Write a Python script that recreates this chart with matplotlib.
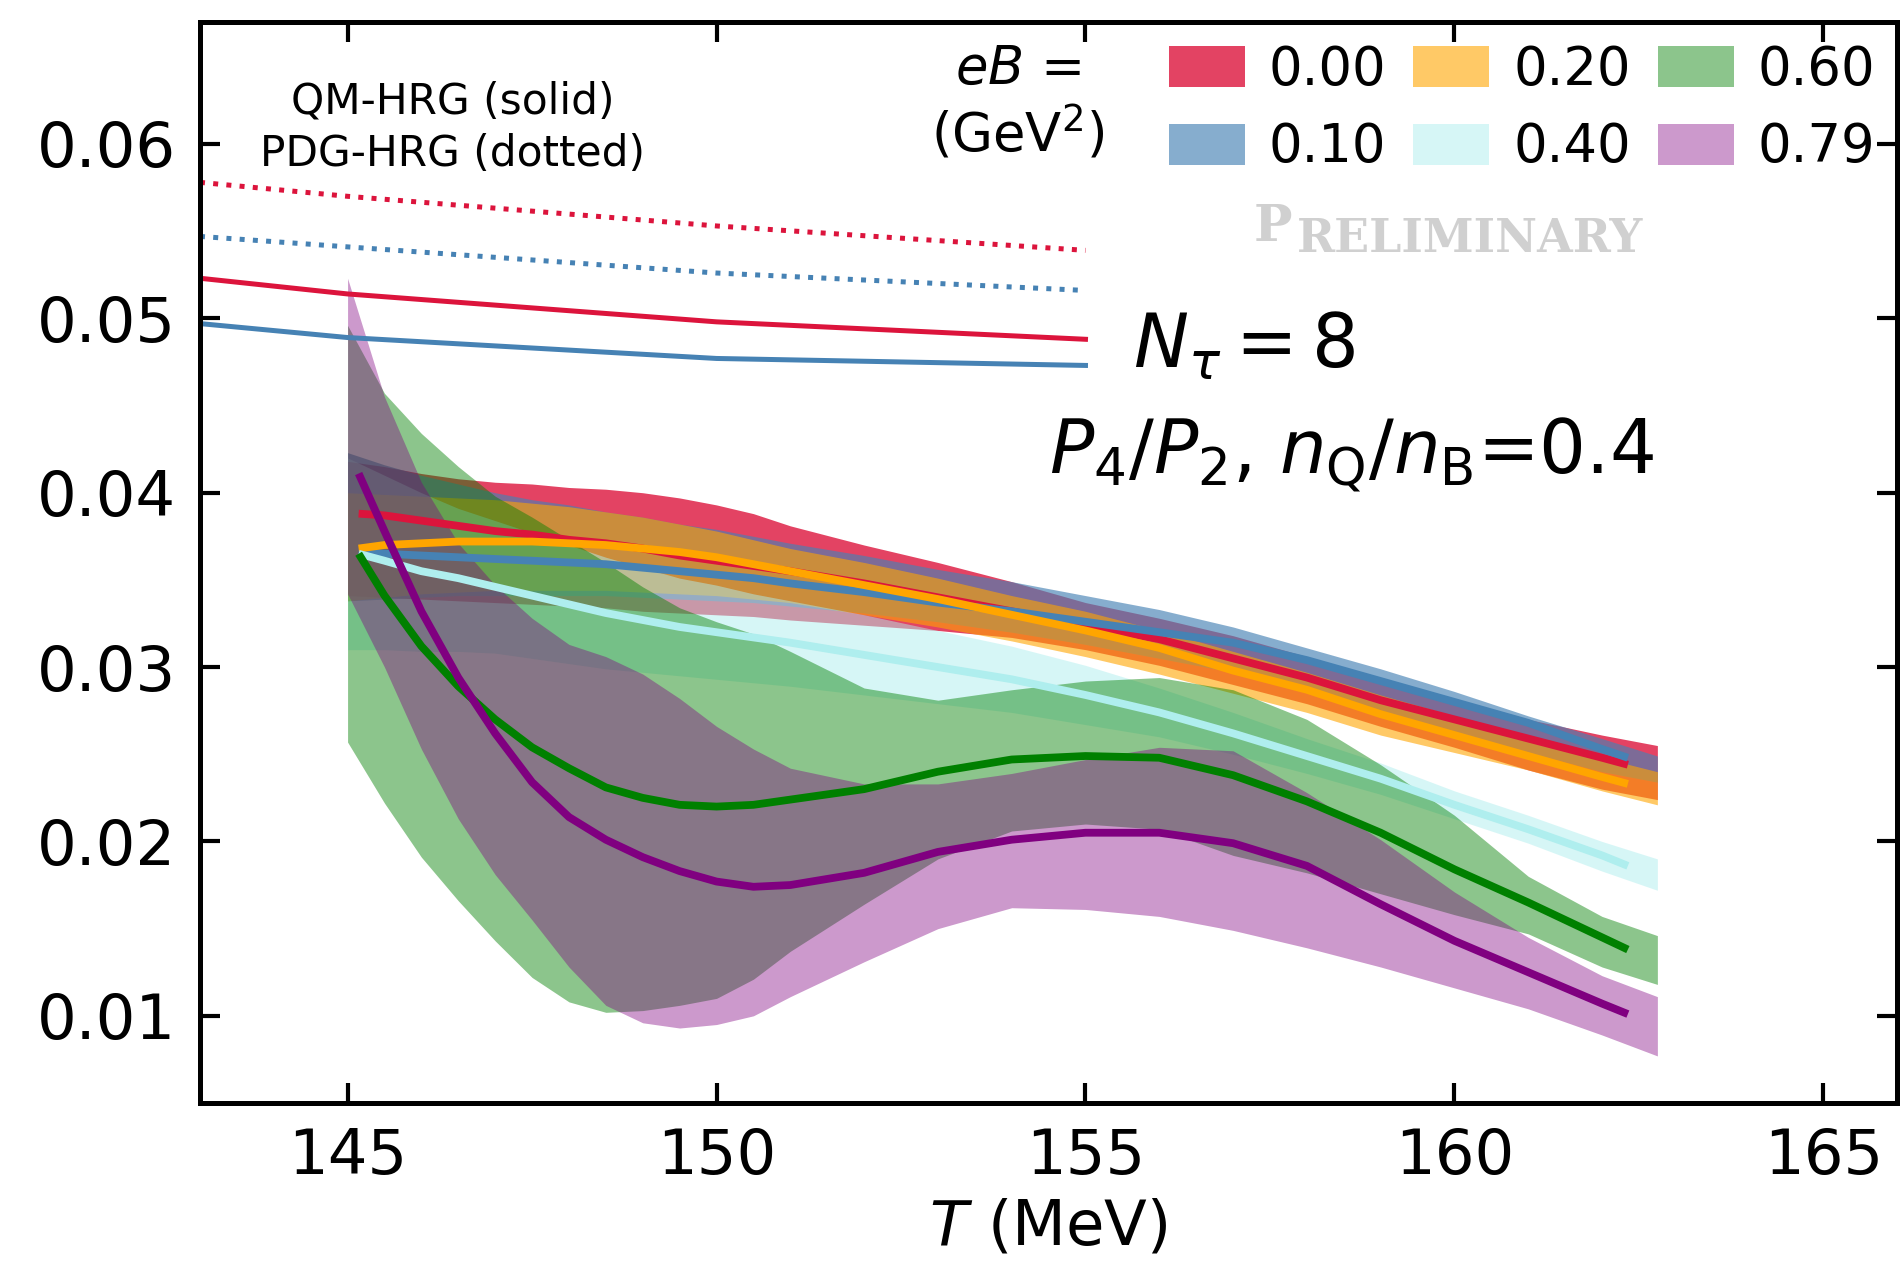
import matplotlib
matplotlib.use("Agg")
import matplotlib.pyplot as plt

# temperature grids (MeV)
T_band = [145, 145.5, 146, 146.5, 147, 147.5, 148, 148.5, 149, 149.5, 150, 150.5,
          151, 152, 153, 154, 155, 156, 157, 158, 159, 160, 161, 162, 162.75]
T_line = [145.15, 145.5, 146, 146.5, 147, 147.5, 148, 148.5, 149, 149.5, 150, 150.5,
          151, 152, 153, 154, 155, 156, 157, 158, 159, 160, 161, 162, 162.35]
T_hrg = [143, 145, 150, 155]

eB_labels = ["0.00", "0.10", "0.20", "0.40", "0.60", "0.79"]
line_colors = ["crimson", "steelblue", "orange", "paleturquoise", "green", "purple"]
band_alpha = [0.8, 0.65, 0.6, 0.5, 0.45, 0.4]

# error bands: upper / lower edges
up_000 = [0.0418, 0.0415, 0.0411, 0.0408, 0.0406, 0.0405, 0.0403, 0.0402, 0.0400, 0.0397, 0.0393, 0.0388,
          0.0381, 0.0370, 0.0360, 0.0349, 0.0337, 0.0328, 0.0318, 0.0306, 0.0294, 0.0282, 0.0270, 0.0261, 0.0255]
lo_000 = [0.0341, 0.0340, 0.0339, 0.0338, 0.0337, 0.0336, 0.0335, 0.0334, 0.0332, 0.0331, 0.0330, 0.0329,
          0.0327, 0.0324, 0.0321, 0.0317, 0.0310, 0.0301, 0.0290, 0.0279, 0.0266, 0.0254, 0.0241, 0.0230, 0.0224]
up_010 = [0.0423, 0.0416, 0.0410, 0.0405, 0.0400, 0.0396, 0.0393, 0.0389, 0.0386, 0.0382, 0.0379, 0.0375,
          0.0371, 0.0364, 0.0356, 0.0349, 0.0341, 0.0333, 0.0323, 0.0311, 0.0299, 0.0286, 0.0272, 0.0259, 0.0249]
lo_010 = [0.0338, 0.0339, 0.0340, 0.0341, 0.0341, 0.0341, 0.0341, 0.0341, 0.0340, 0.0339, 0.0338, 0.0337,
          0.0335, 0.0331, 0.0326, 0.0320, 0.0313, 0.0305, 0.0297, 0.0287, 0.0275, 0.0263, 0.0251, 0.0240, 0.0234]
up_020 = [0.0400, 0.0399, 0.0398, 0.0397, 0.0396, 0.0394, 0.0392, 0.0389, 0.0386, 0.0382, 0.0378, 0.0373,
          0.0368, 0.0360, 0.0351, 0.0341, 0.0332, 0.0321, 0.0309, 0.0297, 0.0284, 0.0272, 0.0260, 0.0248, 0.0240]
lo_020 = [0.0338, 0.0340, 0.0342, 0.0343, 0.0344, 0.0344, 0.0344, 0.0344, 0.0343, 0.0342, 0.0341, 0.0339,
          0.0337, 0.0330, 0.0323, 0.0315, 0.0306, 0.0296, 0.0285, 0.0274, 0.0261, 0.0251, 0.0241, 0.0229, 0.0221]
up_040 = [0.0420, 0.0410, 0.0400, 0.0391, 0.0384, 0.0377, 0.0370, 0.0363, 0.0357, 0.0351, 0.0347, 0.0342,
          0.0338, 0.0330, 0.0321, 0.0312, 0.0301, 0.0288, 0.0274, 0.0259, 0.0245, 0.0229, 0.0215, 0.0200, 0.0190]
lo_040 = [0.0310, 0.0310, 0.0309, 0.0309, 0.0308, 0.0305, 0.0302, 0.0299, 0.0297, 0.0295, 0.0293, 0.0291,
          0.0289, 0.0284, 0.0279, 0.0274, 0.0267, 0.0260, 0.0250, 0.0239, 0.0227, 0.0213, 0.0199, 0.0183, 0.0172]
up_060 = [0.0496, 0.0457, 0.0434, 0.0415, 0.0398, 0.0386, 0.0373, 0.0360, 0.0346, 0.0334, 0.0326, 0.0319,
          0.0309, 0.0288, 0.0281, 0.0287, 0.0292, 0.0294, 0.0287, 0.0270, 0.0244, 0.0215, 0.0180, 0.0157, 0.0146]
lo_060 = [0.0257, 0.0222, 0.0191, 0.0166, 0.0143, 0.0122, 0.0108, 0.0102, 0.0103, 0.0106, 0.0110, 0.0121,
          0.0137, 0.0164, 0.0190, 0.0206, 0.0210, 0.0207, 0.0192, 0.0182, 0.0170, 0.0158, 0.0147, 0.0128, 0.0118]
up_079 = [0.0523, 0.0455, 0.0406, 0.0371, 0.0347, 0.0328, 0.0313, 0.0306, 0.0296, 0.0282, 0.0266, 0.0253,
          0.0242, 0.0233, 0.0233, 0.0239, 0.0247, 0.0254, 0.0252, 0.0228, 0.0201, 0.0171, 0.0145, 0.0123, 0.0111]
lo_079 = [0.0342, 0.0300, 0.0253, 0.0213, 0.0181, 0.0155, 0.0128, 0.0106, 0.0096, 0.0093, 0.0095, 0.0100,
          0.0111, 0.0131, 0.0150, 0.0162, 0.0161, 0.0157, 0.0149, 0.0139, 0.0128, 0.0116, 0.0104, 0.0089, 0.0077]

# central values
mid_000 = [0.0388, 0.0387, 0.0384, 0.0381, 0.0378, 0.0376, 0.0373, 0.0371, 0.0368, 0.0364, 0.0361, 0.0358,
           0.0355, 0.0348, 0.0340, 0.0332, 0.0324, 0.0316, 0.0305, 0.0294, 0.0281, 0.0270, 0.0259, 0.0248, 0.0244]
mid_010 = [0.0366, 0.0365, 0.0364, 0.0363, 0.0362, 0.0361, 0.0360, 0.0359, 0.0357, 0.0355, 0.0353, 0.0351,
           0.0348, 0.0343, 0.0337, 0.0332, 0.0326, 0.0320, 0.0314, 0.0304, 0.0292, 0.0280, 0.0268, 0.0253, 0.0248]
mid_020 = [0.0368, 0.0370, 0.0371, 0.0372, 0.0372, 0.0372, 0.0371, 0.0370, 0.0368, 0.0366, 0.0363, 0.0359,
           0.0355, 0.0347, 0.0339, 0.0330, 0.0321, 0.0311, 0.0298, 0.0287, 0.0273, 0.0261, 0.0249, 0.0237, 0.0233]
mid_040 = [0.0365, 0.0361, 0.0355, 0.0351, 0.0346, 0.0341, 0.0336, 0.0331, 0.0327, 0.0323, 0.0320, 0.0317,
           0.0314, 0.0307, 0.0300, 0.0293, 0.0284, 0.0274, 0.0262, 0.0249, 0.0236, 0.0221, 0.0207, 0.0192, 0.0186]
mid_060 = [0.0365, 0.0341, 0.0312, 0.0289, 0.0270, 0.0254, 0.0242, 0.0231, 0.0225, 0.0221, 0.0220, 0.0221,
           0.0224, 0.0230, 0.0240, 0.0247, 0.0249, 0.0248, 0.0238, 0.0223, 0.0205, 0.0184, 0.0165, 0.0145, 0.0138]
mid_079 = [0.0411, 0.0378, 0.0332, 0.0294, 0.0262, 0.0234, 0.0214, 0.0201, 0.0191, 0.0183, 0.0177, 0.0174,
           0.0175, 0.0182, 0.0194, 0.0201, 0.0205, 0.0205, 0.0199, 0.0186, 0.0164, 0.0143, 0.0125, 0.0107, 0.0101]

# HRG curves
qm_000 = [0.0523, 0.0514, 0.0498, 0.0488]
qm_010 = [0.0497, 0.0489, 0.0477, 0.0473]
pdg_000 = [0.0578, 0.0570, 0.0553, 0.0539]
pdg_010 = [0.0547, 0.0541, 0.0526, 0.0516]

uppers = [up_000, up_010, up_020, up_040, up_060, up_079]
lowers = [lo_000, lo_010, lo_020, lo_040, lo_060, lo_079]
mids = [mid_000, mid_010, mid_020, mid_040, mid_060, mid_079]

fig = plt.figure(figsize=(9.505, 6.305), dpi=200)
ax = fig.add_axes([0.1052, 0.1253, 0.8928, 0.8573])

# bands first, central lines on top
for lab, col, a, up, lo in zip(eB_labels, line_colors, band_alpha, uppers, lowers):
    ax.fill_between(T_band, lo, up, color=col, alpha=a, lw=0, label=lab)
for col, m in zip(line_colors, mids):
    ax.plot(T_line, m, color=col, lw=2.8, solid_capstyle="butt", zorder=5)

ax.plot(T_hrg, qm_000, color="crimson", lw=1.8)
ax.plot(T_hrg, qm_010, color="steelblue", lw=1.8)
ax.plot(T_hrg, pdg_000, color="crimson", lw=1.8, ls=":")
ax.plot(T_hrg, pdg_010, color="steelblue", lw=1.8, ls=":")

ax.set_xlim(143, 166)
ax.set_ylim(0.005, 0.067)
ax.set_xticks([145, 150, 155, 160, 165])
ax.set_yticks([0.01, 0.02, 0.03, 0.04, 0.05, 0.06])
ax.set_yticklabels(["0.01", "0.02", "0.03", "0.04", "0.05", "0.06"])
ax.tick_params(direction="in", length=7.2, width=1.5, top=True, right=True,
               labelsize=22.5, pad=8.5)
for sp in ax.spines.values():
    sp.set_linewidth(1.8)
ax.set_xlabel(r"$T$ (MeV)", fontsize=22.5, labelpad=4)

ax.legend(ncol=3, loc="upper right", bbox_to_anchor=(1.0, 1.0), frameon=False,
          fontsize=19, handlelength=1.44, handleheight=0.82, handletextpad=0.45,
          columnspacing=0.51, labelspacing=0.48, borderpad=0.42, borderaxespad=0)

ax.text(0.482, 0.925, "$eB$ =\n(GeV$^2$)", transform=ax.transAxes, fontsize=19,
        ha="center", va="center", multialignment="center")
ax.text(0.149, 0.9025, "QM-HRG (solid)\nPDG-HRG (dotted)", transform=ax.transAxes,
        fontsize=15.2, ha="center", va="center", multialignment="center",
        linespacing=1.32)
ax.text(0.550, 0.680, r"$N_\tau = 8$", transform=ax.transAxes, fontsize=26.5,
        ha="left", va="baseline")
ax.text(0.500, 0.583, r"$P_4/P_2$, $n_\mathrm{Q}/n_\mathrm{B}$=0.4", transform=ax.transAxes,
        fontsize=26.5, ha="left", va="baseline")

p = ax.text(0.621, 0.797, "P", transform=ax.transAxes, fontsize=18.5,
            family="DejaVu Serif", fontweight="bold", color="#d0d0d0",
            ha="left", va="baseline")
ax.annotate("RELIMINARY", xy=(1.0, 0.0), xycoords=p, xytext=(1.5, 0),
            textcoords="offset points", fontsize=16.5, family="DejaVu Serif",
            fontweight="bold", color="#d0d0d0", ha="left", va="baseline")

fig.savefig("out.png", dpi=200)
